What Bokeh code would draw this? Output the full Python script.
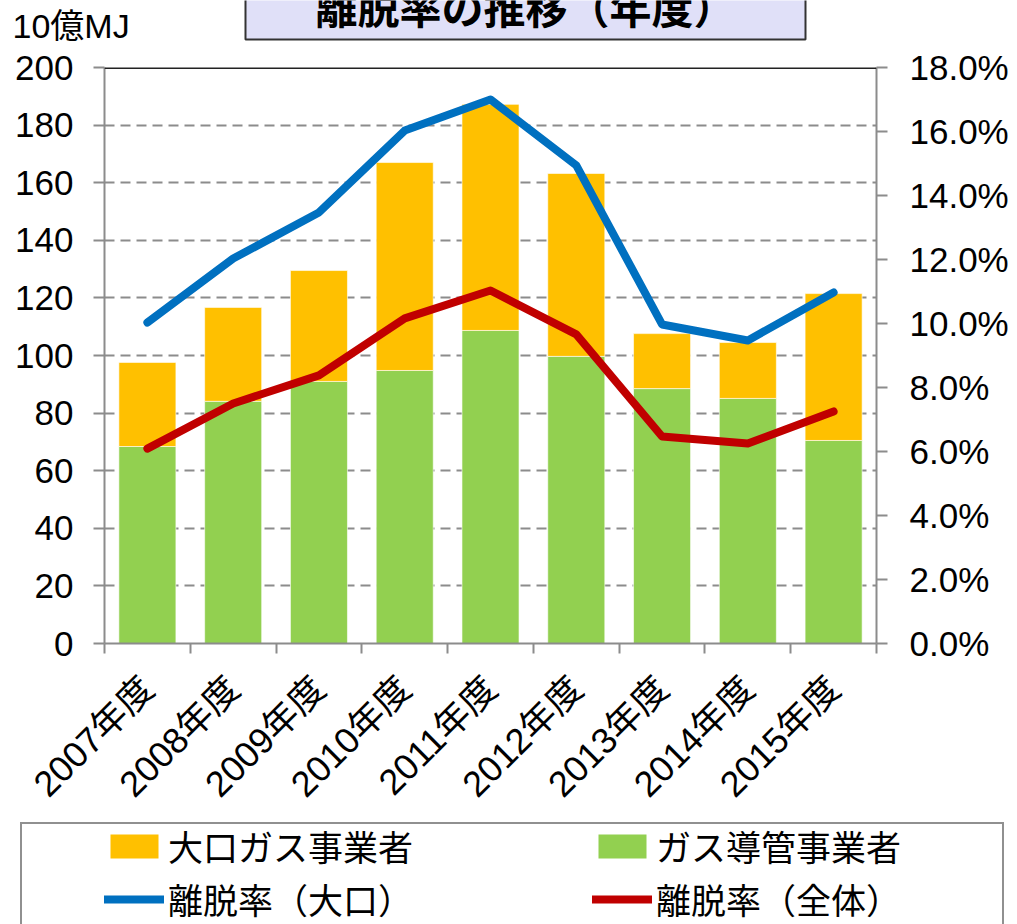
from math import pi
from bokeh.plotting import figure
from bokeh.layouts import column
from bokeh.models import (Range1d, LinearAxis, FixedTicker, PrintfTickFormatter,
                          ColumnDataSource, Legend, LegendItem, Label, Span)
from bokeh.embed import file_html
from bokeh.resources import INLINE

# ---- data ----
years = ["2007年度", "2008年度", "2009年度", "2010年度", "2011年度",
         "2012年度", "2013年度", "2014年度", "2015年度"]
pipeline = [68.4, 84.1, 91.0, 94.8, 108.7, 99.7, 88.5, 85.1, 70.5]      # ガス導管事業者
large = [29.2, 32.6, 38.5, 72.2, 78.5, 63.5, 19.1, 19.4, 51.0]          # 大口ガス事業者
rate_large = [10.03, 12.03, 13.47, 16.03, 17.0, 14.94, 9.97, 9.47, 10.97]  # 離脱率（大口）
rate_all = [6.09, 7.5, 8.38, 10.16, 11.03, 9.66, 6.47, 6.25, 7.25]       # 離脱率（全体）
left_ticks = list(range(0, 201, 20))
right_ticks = list(range(0, 19, 2))

xs = list(range(1, len(years) + 1))
src = ColumnDataSource(dict(x=xs, pipeline=pipeline, large=large,
                            rate_large=rate_large, rate_all=rate_all))

NUM_FONT = "Liberation Sans, Noto Sans CJK JP"
CJK_FONT = "Noto Sans CJK JP"
GRAY = "#8c8c8c"
GREEN, ORANGE, BLUE, RED = "#92D050", "#FFC000", "#0070C0", "#C00000"
W = 1017

def strip(h):
    return figure(width=W, height=h, output_backend="svg", toolbar_location=None,
                  x_axis_type=None, y_axis_type=None, min_border=0, frame_align=False,
                  outline_line_color=None, background_fill_color="white",
                  border_fill_color="white", x_range=Range1d(0, 1), y_range=Range1d(0, 1))

# ---------- top strip: unit label + title box ----------
pt = strip(45)
pt.add_layout(Label(x=12, y=20, x_units="screen", y_units="screen", text="10億MJ",
                    text_font=NUM_FONT, text_font_size="34px", text_color="black",
                    text_baseline="alphabetic", text_align="left"))
pt.add_layout(Label(x=525, y=6, x_units="screen", y_units="screen",
                    text="離脱率の推移（年度）", text_font=CJK_FONT, text_font_size="42px",
                    text_font_style="bold",
                    text_color="black", text_align="center", text_baseline="bottom",
                    background_fill_color="#E0E0F8", border_line_color="#333333",
                    border_line_width=2,
                    padding=dict(left=70, right=70, top=40, bottom=4)))

# ---------- main chart ----------
p = figure(width=W, height=777, output_backend="svg", toolbar_location=None,
           x_range=Range1d(0.5, len(years) + 0.5), y_range=Range1d(0, 200),
           min_border_left=104, min_border_right=141, min_border_top=22,
           min_border_bottom=179, frame_align=False, background_fill_color="white",
           border_fill_color="white", outline_line_color=None)
p.extra_y_ranges = {"pct": Range1d(0, 18)}

p.xgrid.visible = False
lt = FixedTicker(ticks=left_ticks)
p.yaxis.ticker = lt
p.ygrid.ticker = lt
p.ygrid.grid_line_color = GRAY
p.ygrid.grid_line_width = 2
p.ygrid.grid_line_dash = "10 6"

bars = p.vbar_stack(["pipeline", "large"], x="x", width=0.665, source=src,
                    fill_color=[GREEN, ORANGE], line_color="white",
                    line_width=1, line_alpha=0.6)

l_large = p.line("x", "rate_large", source=src, y_range_name="pct",
                 line_color=BLUE, line_width=8, line_cap="round", line_join="round")
l_all = p.line("x", "rate_all", source=src, y_range_name="pct",
               line_color=RED, line_width=8, line_cap="round", line_join="round")

p.add_layout(Span(location=200, dimension="width", line_color="#222222", line_width=3))

ya = p.yaxis[0]
ya.axis_line_color = GRAY
ya.axis_line_width = 2
ya.major_tick_line_color = GRAY
ya.major_tick_line_width = 2
ya.major_tick_out = 11
ya.major_tick_in = 0
ya.minor_tick_line_color = None
ya.major_label_text_font = NUM_FONT
ya.major_label_text_font_size = "35px"
ya.major_label_text_color = "black"
ya.major_label_standoff = 20

ra = LinearAxis(y_range_name="pct", ticker=FixedTicker(ticks=right_ticks),
                formatter=PrintfTickFormatter(format="%.1f%%"))
ra.axis_line_color = GRAY
ra.axis_line_width = 2
ra.major_tick_line_color = GRAY
ra.major_tick_line_width = 2
ra.major_tick_out = 11
ra.major_tick_in = 0
ra.minor_tick_line_color = None
ra.major_label_text_font = NUM_FONT
ra.major_label_text_font_size = "35px"
ra.major_label_text_color = "black"
ra.major_label_standoff = 22
p.add_layout(ra, "right")

# bottom axis: labels at category centres, tick marks at boundaries (minor ticks)
xa = p.xaxis[0]
xa.ticker = FixedTicker(ticks=xs, minor_ticks=[i + 0.5 for i in range(0, len(years) + 1)])
xa.major_label_overrides = {x: y for x, y in zip(xs, years)}
xa.axis_line_color = GRAY
xa.axis_line_width = 2
xa.major_tick_line_color = None
xa.major_tick_out = 0
xa.major_tick_in = 0
xa.minor_tick_line_color = GRAY
xa.minor_tick_line_width = 2
xa.minor_tick_out = 10
xa.minor_tick_in = 0
xa.major_label_orientation = pi / 4
xa.major_label_text_font = NUM_FONT
xa.major_label_text_font_size = "36px"
xa.major_label_text_color = "black"
xa.major_label_standoff = 29

# ---------- bottom strip: legend ----------
pb = strip(102)
d_box = pb.line([5, 6], [5, 6], line_alpha=0)
d_large = pb.vbar(x=[5], top=[6], bottom=[5], width=0.5, fill_color=ORANGE, line_color=None)
d_pipe = pb.vbar(x=[5], top=[6], bottom=[5], width=0.5, fill_color=GREEN, line_color=None)
d_rl = pb.line([5, 6], [5, 6], line_color=BLUE, line_width=8, line_cap="round")
d_ra = pb.line([5, 6], [5, 6], line_color=RED, line_width=8, line_cap="round")

box = Legend(items=[LegendItem(label=" ", renderers=[d_box])],
             location=(20, -2), padding=0, margin=0, glyph_width=0, glyph_height=100,
             label_width=980, label_height=100, label_standoff=0,
             border_line_color="#222222", border_line_width=2,
             background_fill_color="white", background_fill_alpha=1.0)
pb.add_layout(box, "center")

legend = Legend(items=[
    LegendItem(label="大口ガス事業者", renderers=[d_large]),
    LegendItem(label="ガス導管事業者", renderers=[d_pipe]),
    LegendItem(label="離脱率（大口）", renderers=[d_rl]),
    LegendItem(label="離脱率（全体）", renderers=[d_ra]),
], location=(104, 0), orientation="horizontal", ncols=2, padding=0, margin=0,
    glyph_width=60, glyph_height=30, label_width=422, label_height=50,
    label_standoff=4, spacing=2, border_line_color=None,
    background_fill_alpha=0, label_text_font=CJK_FONT,
    label_text_font_size="35px", label_text_color="black")
pb.add_layout(legend, "center")

layout = column(pt, p, pb, spacing=0)
open("out.html", "w").write(file_html(layout, INLINE))
